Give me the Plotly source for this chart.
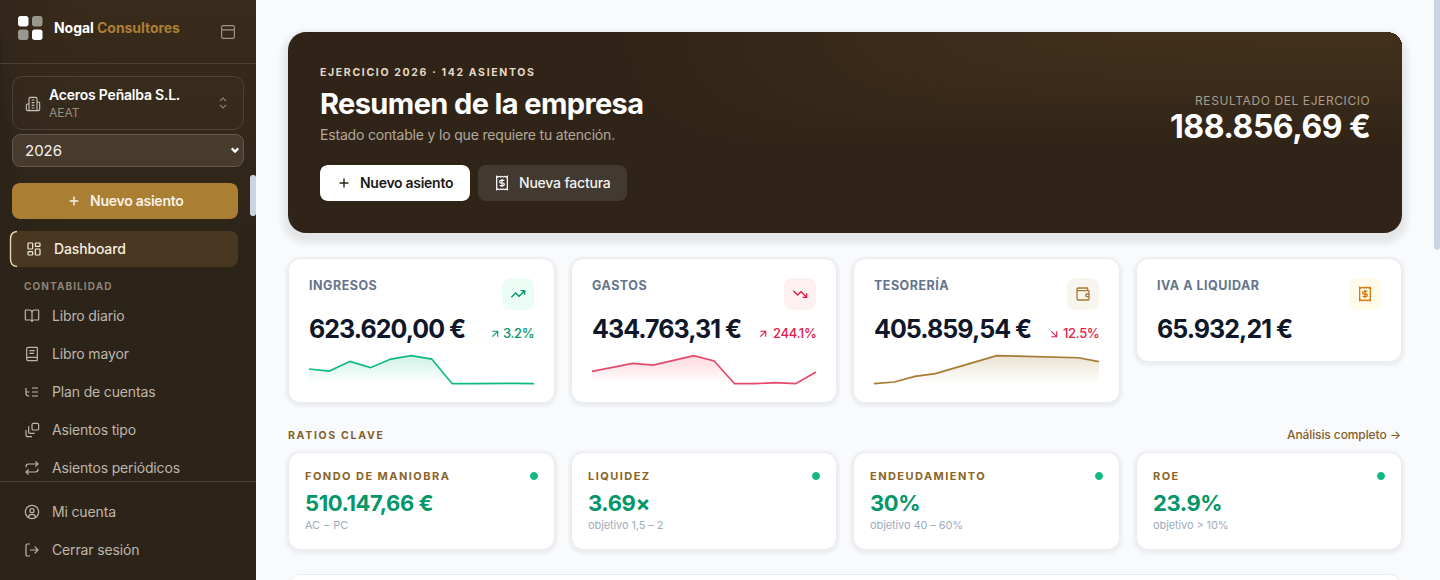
import re
import plotly.graph_objects as go

# ---------- data ----------
MONTHS = ["Ene", "Feb", "Mar", "Abr", "May", "Jun", "Jul", "Ago", "Sep", "Oct", "Nov", "Dic"]
INGRESOS = [63.7, 55.0, 97.0, 69.5, 107.0, 121.5, 107.0, 0.0, 0.0, 1.4, 1.4, 0.0]
GASTOS = [34.8, 45.2, 57.4, 52.7, 65.9, 79.0, 64.0, 0.0, 0.0, 2.8, 0.0, 33.0]
TESORERIA = [50, 77, 169, 212, 309, 406, 503, 497, 492, 476, 470, 406]

KPI_LABELS = ["INGRESOS", "GASTOS", "TESORERÍA", "IVA A LIQUIDAR"]
KPI_VALUES = ["623.620,00 €", "434.763,31 €", "405.859,54 €", "65.932,21 €"]
KPI_DELTAS = ["3.2%", "244.1%", "12.5%", None]
RATIO_LABELS = ["FONDO DE MANIOBRA", "LIQUIDEZ", "ENDEUDAMIENTO", "ROE"]
RATIO_VALUES = ["510.147,66 €", "3.69×", "30%", "23.9%"]
RATIO_NOTES = ["AC − PC", "objetivo 1,5 – 2", "objetivo 40 – 60%", "objetivo > 10%"]
NAV_ITEMS = ["Libro diario", "Libro mayor", "Plan de cuentas", "Asientos tipo", "Asientos periódicos"]
FOOT_ITEMS = ["Mi cuenta", "Cerrar sesión"]

FONT = "Inter"
shapes, notes = [], []


def rr(x0, y0, x1, y1, r):
    k = r * 0.45
    return (f"M{x0+r} {y0} L{x1-r} {y0} C{x1-k} {y0} {x1} {y0+k} {x1} {y0+r} "
            f"L{x1} {y1-r} C{x1} {y1-k} {x1-k} {y1} {x1-r} {y1} "
            f"L{x0+r} {y1} C{x0+k} {y1} {x0} {y1-k} {x0} {y1-r} "
            f"L{x0} {y0+r} C{x0} {y0+k} {x0+k} {y0} {x0+r} {y0} Z")


def box(x0, y0, x1, y1, r=0, fill="rgba(0,0,0,0)", line=None, lw=1):
    shapes.append(dict(type="path", xref="x", yref="y", layer="below", path=rr(x0, y0, x1, y1, r),
                       fillcolor=fill, line=dict(color=line or "rgba(0,0,0,0)", width=lw if line else 0)))


def raw(path, fill):
    shapes.append(dict(type="path", xref="x", yref="y", layer="below", path=path,
                       fillcolor=fill, line=dict(width=0)))


def shadow(x0, y0, x1, y1, r, n=6, dy=2, a=0.012):
    for i in range(n, 0, -1):
        box(x0 - i, y0 - i + dy, x1 + i, y1 + i + dy, r + i, fill=f"rgba(15,23,42,{a})")


def icon(path, cx, cy, size, color, width=1.3, fill="rgba(0,0,0,0)"):
    s = size / 24.0
    toks = re.findall(r"[MLCQZ]|-?\d+\.?\d*", path)
    out, is_x = [], True
    for t in toks:
        if t in "MLCQZ":
            out.append(t)
            is_x = True
        else:
            v = float(t)
            out.append(f"{(cx + (v - 12) * s) if is_x else (cy + (v - 12) * s):.2f}")
            is_x = not is_x
    shapes.append(dict(type="path", xref="x", yref="y", layer="below", path=" ".join(out),
                       fillcolor=fill, line=dict(color=color, width=width)))


def T(x, y, text, size, color, weight=400, anchor="left", ls=None, family=FONT):
    t = text if ls is None else f'<span style="letter-spacing:{ls}px">{text}</span>'
    notes.append(dict(xref="x", yref="y", x=x, y=y, text=t, showarrow=False, xanchor=anchor,
                      yanchor="middle", borderpad=0, borderwidth=0,
                      font=dict(family=family, size=size, color=color, weight=weight)))


def circ(cx, cy, r):
    k = r * 0.55
    return (f"M{cx-r} {cy} C{cx-r} {cy-k} {cx-k} {cy-r} {cx} {cy-r} C{cx+k} {cy-r} {cx+r} {cy-k} {cx+r} {cy} "
            f"C{cx+r} {cy+k} {cx+k} {cy+r} {cx} {cy+r} C{cx-k} {cy+r} {cx-r} {cy+k} {cx-r} {cy} Z ")


def grid_rect(x0, y0, x1, y1, r=1):
    return rr(x0, y0, x1, y1, r) + " "


def mix(a, b, t):
    return "#%02x%02x%02x" % tuple(round(a[j] + (b[j] - a[j]) * t) for j in range(3))


IC = dict(
    panel=grid_rect(3, 3, 21, 21, 2) + "M3 9 L21 9",
    building="M6 22 L6 4 Q6 2 8 2 L16 2 Q18 2 18 4 L18 22 M6 12 L4 12 Q2 12 2 14 L2 20 Q2 22 4 22 L20 22 Q22 22 22 20 L22 11 Q22 9 20 9 L18 9 M10 6 L14 6 M10 10 L14 10 M10 14 L14 14 M10 18 L14 18",
    chev="M7 15 L12 20 L17 15 M7 9 L12 4 L17 9",
    down="M6 9 L12 15 L18 9",
    plus="M5 12 L19 12 M12 5 L12 19",
    dash=grid_rect(3, 3, 10, 12) + grid_rect(14, 3, 21, 8) + grid_rect(14, 12, 21, 21) + grid_rect(3, 16, 10, 21),
    book_open="M12 7 L12 21 M3 18 Q2 18 2 17 L2 4 Q2 3 3 3 L8 3 Q12 3 12 7 Q12 3 16 3 L21 3 Q22 3 22 4 L22 17 Q22 18 21 18 L15 18 Q12 18 12 21 Q12 18 9 18 Z",
    book="M4 19.5 L4 4.5 Q4 2 6.5 2 L19 2 Q20 2 20 3 L20 21 Q20 22 19 22 L6.5 22 Q4 22 4 19.5 Q4 17 6.5 17 L20 17 M8 7 L16 7 M8 11 L15 11",
    tree="M21 12 L12 12 M21 6 L12 6 M21 18 L12 18 M3 6 L3 14 Q3 18 7 18 L8 18 M3 12 L8 12",
    copy="M14 2 L20 2 Q22 2 22 4 L22 10 Q22 12 20 12 L14 12 Q12 12 12 10 L12 4 Q12 2 14 2 Z M8 7 Q7 7 7 8 L7 15 Q7 17 9 17 L16 17 M3 12 L3 19 Q3 22 6 22 L12 22",
    repeat="M17 2 L21 6 L17 10 M3 11 L3 10 Q3 6 7 6 L21 6 M7 22 L3 18 L7 14 M21 13 L21 14 Q21 18 17 18 L3 18",
    user=circ(12, 12, 10) + circ(12, 10, 3) + "M7 20 Q7 16 10 16 L14 16 Q17 16 17 20",
    logout="M9 3 L5 3 Q3 3 3 5 L3 19 Q3 21 5 21 L9 21 M16 17 L21 12 L16 7 M21 12 L9 12",
    up="M22 7 L13.5 15.5 L8.5 10.5 L2 17 M16 7 L22 7 L22 13",
    dn="M22 17 L13.5 8.5 L8.5 13.5 L2 7 M16 17 L22 17 L22 11",
    wallet="M19 7 L19 4 Q19 3 18 3 L5 3 Q3 3 3 5 Q3 7 5 7 L20 7 Q21 7 21 8 L21 20 Q21 21 20 21 L5 21 Q3 21 3 19 L3 5 M21 12 L18 12 Q16 12 16 14 Q16 16 18 16 L21 16",
    receipt="M4 2 L4 22 L6 21 L8 22 L10 21 L12 22 L14 21 L16 22 L18 21 L20 22 L20 2 L18 3 L16 2 L14 3 L12 2 L10 3 L8 2 L6 3 Z M15.5 8 L10.5 8 Q8.5 8 8.5 10 Q8.5 12 10.5 12 L13.5 12 Q15.5 12 15.5 14 Q15.5 16 13.5 16 L8.5 16 M12 6 L12 18",
    ur="M7 7 L17 7 L17 17 M7 17 L17 7",
    dr="M7 7 L17 17 M17 7 L17 17 L7 17",
)

# ---------- sidebar ----------
box(0, 0, 256, 580, 0, fill="#2d2419")
SB_A, SB_B = (45, 36, 25), (57, 43, 27)
for i in range(1, 13):
    y1 = 260 - i * 20
    x0 = max(0, -40 + i * 9)
    raw(f"M{x0} 0 L256 0 L256 {y1} L{x0 + 60} {y1} Q{x0} {y1} {x0} 0 Z", mix(SB_A, SB_B, i / 12))
box(0, 63, 256, 64, 0, fill="#4a4034")
box(0, 481, 256, 482, 0, fill="#4a4337")

box(18, 16, 28.5, 26.5, 2.5, fill="#ffffff")
box(32, 16, 42.5, 26.5, 2.5, fill="#9a958d")
box(18, 29.5, 28.5, 40, 2.5, fill="#9a958d")
box(32, 29.5, 42.5, 40, 2.5, fill="#ffffff")
T(54, 27.5, 'Nogal <span style="fill:#ab7f33">Consultores</span>', 14, "#ffffff", 700, ls=-0.05)
icon(IC["panel"], 228, 32, 17, "#9c9488", 1.2)

box(12.5, 76.5, 243.5, 129.5, 10, fill="rgba(255,255,255,0.01)", line="rgba(255,255,255,0.12)")
icon(IC["building"], 33, 104, 16, "#c9c3b9", 1.1)
T(49, 94.5, "Aceros Peñalba S.L.", 14, "#ffffff", 600, ls=-0.22)
T(49, 112, "AEAT", 12, "#98907f", 400)
icon(IC["chev"], 223, 103, 15, "#8d8577", 1.1)
box(12.5, 134.5, 243.5, 166.5, 8, fill="#473b2e", line="rgba(255,255,255,0.2)")
T(25, 150, "2026", 15, "#f3f1ed", 400)
icon(IC["down"], 235, 150, 13, "#ffffff", 2.2)
box(12, 183, 238, 219, 8, fill="#ab7f33")
icon(IC["plus"], 74, 201, 15, "#f7f1e6", 1.5)
T(90, 200.5, "Nuevo asiento", 14, "#f7f1e6", 600, ls=-0.25)
box(250, 175, 256, 216, 2.5, fill="#cbd5e1")
box(10, 231, 238, 267, 8, fill="#4a3721")
shapes.append(dict(type="path", xref="x", yref="y", layer="below",
                   path="M17 231.5 Q10.5 232 10.5 239 L10.5 259 Q10.5 266 17 266.5",
                   fillcolor="rgba(0,0,0,0)", line=dict(color="#e8d6ad", width=1.4)))
icon(IC["dash"], 34, 249, 16, "#f2ebdc", 1.2)
T(54, 248.5, "Dashboard", 14, "#f4eee2", 500, ls=-0.15)
T(24, 286, "CONTABILIDAD", 10, "#8c8376", 700, ls=1.1)
for label, ic, yy in zip(NAV_ITEMS, ["book_open", "book", "tree", "copy", "repeat"], [316, 354, 392, 430, 468]):
    icon(IC[ic], 32, yy, 16, "#bcb6ab", 1.2)
    T(52, yy - 0.7, label, 14, "#bcb6ab", 400, ls=-0.15)
for label, ic, yy in zip(FOOT_ITEMS, ["user", "logout"], [512, 550]):
    icon(IC[ic], 32, yy, 16, "#bcb6ab", 1.2)
    T(52, yy - 0.7, label, 14, "#bcb6ab", 400, ls=-0.15)

# ---------- hero ----------
shadow(288, 32, 1402, 233, 18, n=10, dy=5, a=0.008)
box(288, 32, 1402, 233, 18, fill="#302418")
H_A, H_B = (48, 36, 24), (66, 48, 27)
for i in range(1, 19):
    x0 = 600 + i * 28
    y1 = 150 - i * 6
    raw(f"M{x0} 32 L1384 32 Q1402 32 1402 50 L1402 {y1} L{x0 + 180} {y1} Q{x0} {y1} {x0} 32 Z",
        mix(H_A, H_B, i / 18))
T(320, 72, "EJERCICIO 2026 · 142 ASIENTOS", 10.5, "#e5dac6", 700, ls=1.65)
T(320, 103.3, "Resumen de la empresa", 29, "#ffffff", 700, ls=-0.62)
T(320, 134.3, "Estado contable y lo que requiere tu atención.", 14, "#b1a99b", 400, ls=-0.18)
box(320, 165, 470, 201, 8, fill="#ffffff")
icon(IC["plus"], 344, 183, 15, "#2a2218", 1.4)
T(360, 182.5, "Nuevo asiento", 14, "#1c1917", 600, ls=-0.28)
box(478, 165, 627, 201, 8, fill="#423a30")
icon(IC["receipt"], 502, 183, 16, "#ffffff", 1.2)
T(519, 182.5, "Nueva factura", 14, "#f5f2ec", 500, ls=-0.2)
T(1370, 100, "RESULTADO DEL EJERCICIO", 12, "#a89f8e", 400, anchor="right", ls=0.6)
T(1370, 126.5, "188.856,69 €", 32, "#ffffff", 700, anchor="right", ls=-0.5)

# ---------- KPI cards ----------
CX0 = [288, 571, 853, 1136]
CX1 = [555, 837, 1120, 1402]
CBOT = [403, 403, 403, 362]
ICONS = ["up", "dn", "wallet", "receipt"]
ICBG = ["#ecfdf5", "#fff1f2", "#f8f5ef", "#fffbeb"]
ICFG = ["#059669", "#e11d48", "#a57a33", "#d97706"]
DCOL = ["#059669", "#e11d48", "#e11d48", None]
DIC = ["ur", "ur", "dr", None]
DICX = [495, 763, 1054, None]
for i in range(4):
    shadow(CX0[i], 258, CX1[i], CBOT[i], 12, n=4, dy=1.5, a=0.012)
    box(CX0[i] + .5, 258.5, CX1[i] - .5, CBOT[i] - .5, 12, fill="#ffffff", line="#e8ecf2")
    tx = CX0[i] + 21
    T(tx, 285, KPI_LABELS[i], 12.5, "#64748b", 700, ls=0.5)
    T(tx, 329, KPI_VALUES[i], 25, "#0f172a", 700, ls=-0.95)
    bx = CX1[i] - 53
    box(bx, 278, bx + 32, 310, 8, fill=ICBG[i])
    icon(IC[ICONS[i]], bx + 16, 294, 16, ICFG[i], 1.3)
    if KPI_DELTAS[i]:
        T(CX1[i] - 21, 333, KPI_DELTAS[i], 13, DCOL[i], 500, anchor="right", ls=-0.35)
        icon(IC[DIC[i]], DICX[i], 334, 13, DCOL[i], 1.1)

# ---------- ratios ----------
T(288, 435, "RATIOS CLAVE", 10.5, "#84602a", 700, ls=1.7)
T(1401, 434.5, "Análisis completo →", 12, "#84602a", 500, anchor="right", ls=-0.1)
for i in range(4):
    shadow(CX0[i], 452, CX1[i], 550, 12, n=4, dy=1.5, a=0.012)
    box(CX0[i] + .5, 452.5, CX1[i] - .5, 549.5, 12, fill="#ffffff", line="#e8ecf2")
    tx = CX0[i] + 17
    T(tx, 476, RATIO_LABELS[i], 11, "#8a6428", 700, ls=1.45)
    T(tx, 502.5, RATIO_VALUES[i], 22, "#059669", 700, ls=-0.4)
    T(tx, 525, RATIO_NOTES[i], 11, "#a0abbd", 400, ls=-0.1)
    cx = CX1[i] - 21
    box(cx - 4, 472, cx + 4, 480, 4, fill="#10b981")

box(288.5, 574.5, 1401.5, 640, 12, fill="#ffffff", line="#e8ecf2")
box(1434, -6, 1440, 250, 3, fill="#cbd5e1")

# ---------- sparklines (data-driven) ----------
SP = [(INGRESOS, 0, "#10b981", "rgba(16,185,129,0.20)", "rgba(16,185,129,0)"),
      (GASTOS, 1, "#e5486b", "rgba(244,63,94,0.20)", "rgba(244,63,94,0)"),
      (TESORERIA, 2, "#a57a33", "rgba(165,122,51,0.22)", "rgba(165,122,51,0)")]
fig = go.Figure()
axes = dict(
    xaxis=dict(domain=[0, 1], range=[0, 1440], visible=False, fixedrange=True),
    yaxis=dict(domain=[0, 1], range=[580, 0], visible=False, fixedrange=True),
)
SPY0, SPY1, PAD = 355.7, 383.7, 2.0
BASE = [0, 0, min(TESORERIA)]
for k, (vals, i, col, c0, c1) in enumerate(SP):
    n = k + 2
    x0, x1 = CX0[i] + 21, CX1[i] - 21
    lo, hi = BASE[k], max(vals)
    per_px = (hi - lo) / (SPY1 - SPY0)
    fig.add_trace(go.Scatter(
        x=MONTHS, y=vals, xaxis=f"x{n}", yaxis=f"y{n}", mode="lines",
        line=dict(color=col, width=1.7), fill="tozeroy", fillcolor="rgba(0,0,0,0)",
        fillgradient=dict(type="vertical", colorscale=[[0, c1], [1, c0]], start=lo, stop=hi),
        hoverinfo="skip", showlegend=False))
    axes[f"xaxis{n}"] = dict(domain=[x0 / 1440, x1 / 1440], visible=False, fixedrange=True, anchor=f"y{n}",
                             type="category", range=[0, 11])
    axes[f"yaxis{n}"] = dict(domain=[1 - (SPY1 + PAD) / 580, 1 - (SPY0 - PAD) / 580], visible=False,
                             fixedrange=True, anchor=f"x{n}", range=[lo - PAD * per_px, hi + PAD * per_px])

fig.update_layout(width=1440, height=580, margin=dict(l=0, r=0, t=0, b=0), paper_bgcolor="#f8fafc",
                  plot_bgcolor="rgba(0,0,0,0)", shapes=shapes, annotations=notes, showlegend=False,
                  dragmode=False, **axes)
fig.write_html("out.html", config=dict(displayModeBar=False, responsive=False),
               post_script="document.documentElement.style.overflow='hidden';document.body.style.margin='0';")
